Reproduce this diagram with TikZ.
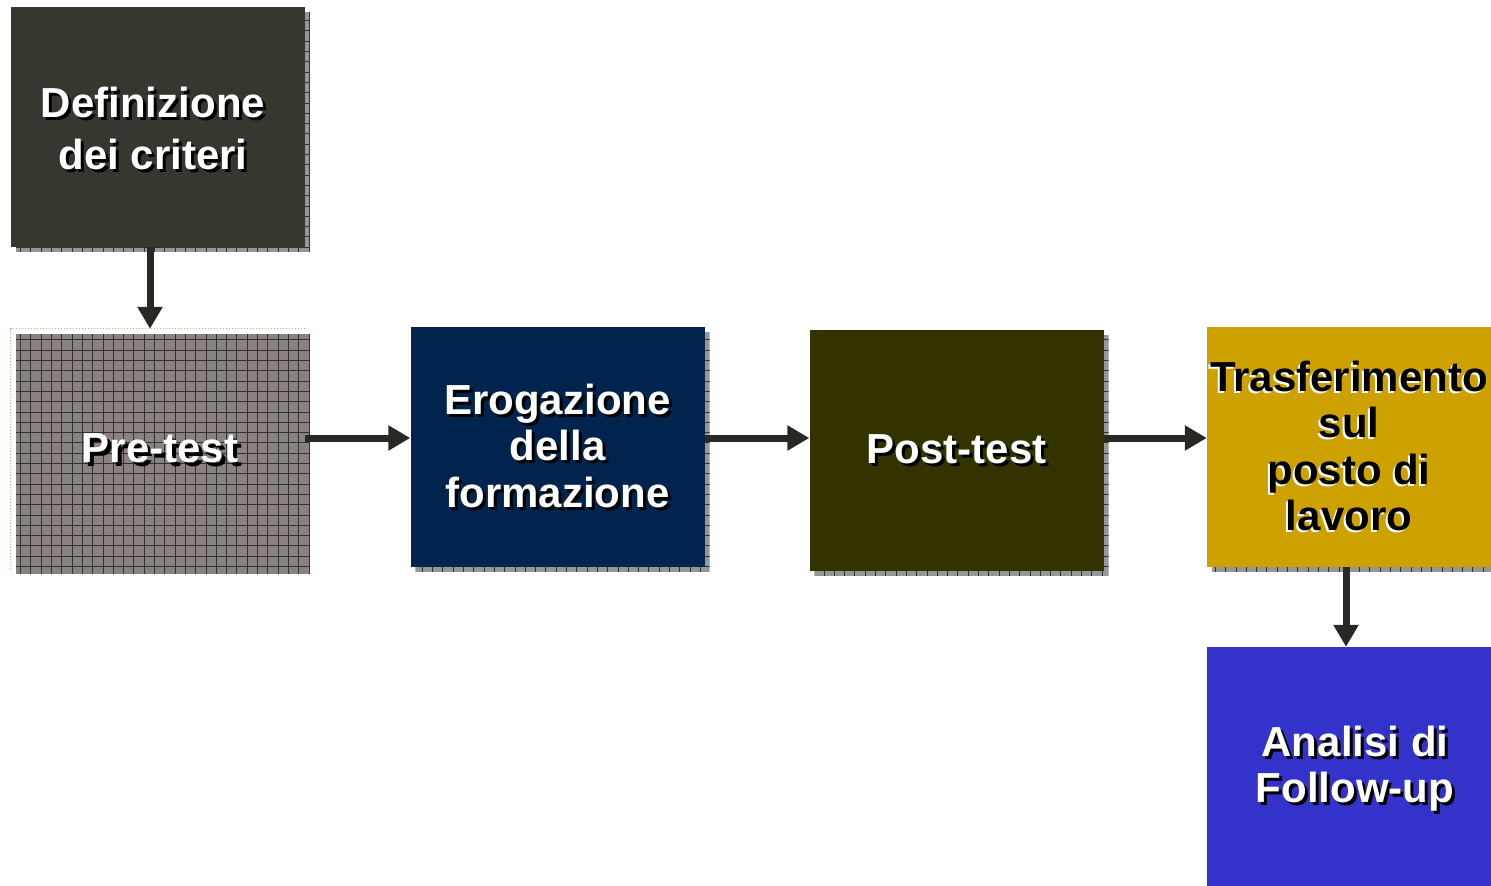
\documentclass[tikz,border=0pt]{standalone}
\usepackage{fontspec}
\setmainfont{Liberation Sans}
\usetikzlibrary{arrows.meta,backgrounds}
\definecolor{cdef}{RGB}{56,55,47}
\definecolor{cero}{RGB}{0,36,77}
\definecolor{cpost}{RGB}{51,51,0}
\definecolor{ctra}{RGB}{204,161,0}
\definecolor{cana}{RGB}{51,51,204}
\definecolor{cpre}{RGB}{138,130,127}
\definecolor{cshad}{RGB}{150,150,150}
\definecolor{cgrid}{RGB}{50,50,50}
\definecolor{carr}{RGB}{40,40,36}
\definecolor{cdot}{RGB}{235,160,130}
\newcommand{\shw}[1]{\makebox[0pt][l]{\hspace{3pt}\raisebox{-3pt}{\color{black}#1}}#1}
\newcommand{\shp}[1]{\makebox[0pt][l]{\hspace{4pt}\raisebox{-4pt}{\color{black}#1}}#1}
\newcommand{\shb}[1]{\makebox[0pt][l]{\hspace{-2pt}\raisebox{-2pt}{\color{white}#1}}#1}
\newcommand{\gridshadow}[3]{%
  \begin{scope}
    \clip ([shift={(#3,#3)}]#1.north west) rectangle ([shift={(#3,#3)}]#1.south east);
    \fill[#2] ([shift={(#3,#3)}]#1.north west) rectangle ([shift={(#3,#3)}]#1.south east);
    \draw[gridln] ([shift={(#3,#3)}]#1.north west) grid ([shift={(#3,#3)}]#1.south east);
  \end{scope}}
\begin{document}
\begin{tikzpicture}[x=1pt,y=-1pt,
  gridln/.style={draw=cgrid, line width=0.9pt, xstep=10.3pt, ystep=10.3pt},
  box/.style={rectangle, inner sep=0pt, draw=none, text=white, align=center,
    minimum width=294pt, minimum height=240pt,
    font=\fontsize{42}{46.5}\selectfont\bfseries},
  txt/.style={inner sep=0pt, text=white, align=center,
    font=\fontsize{42}{46.5}\selectfont\bfseries},
  arr/.style={line width=7pt, draw=carr, -{Triangle[length=22pt,width=24pt]}}]
\useasboundingbox (0,0) rectangle (1491,886);
\node[box, fill=cdef] (def) at (158,127) {};
\node[txt, font=\fontsize{42}{52}\selectfont\bfseries] (defT) at (153,130) {\shw{Definizione}\\\shw{dei criteri}};
\node[box] (pre) at (158,449) {};
\node[txt] (preT) at (160,450) {\shp{Pre-test}};
\node[box, fill=cero] (ero) at (557.5,447) {\shw{Erogazione}\\\shw{della}\\\shw{formazione}};
\node[box, fill=cpost, minimum height=241pt] (post) at (956.5,450.5) {\shw{Post-test}};
\node[box, fill=ctra, text=black, minimum width=284pt] (tra) at (1349,447) {\shb{Trasferimento}\\\shb{sul}\\\shb{posto di}\\\shb{lavoro}};
\node[box, fill=cana, minimum width=284pt, minimum height=239pt] (ana) at (1349,766.5) {};
\node[txt] (anaT) at (1355,770) {\shw{Analisi di}\\\shw{Follow-up}};
\begin{scope}[on background layer]
  \gridshadow{def}{cshad}{5}
  \gridshadow{pre}{cpre}{5}
  \gridshadow{ero}{cshad}{5}
  \gridshadow{post}{cshad}{5}
  \gridshadow{tra}{cshad}{5}
\end{scope}
\draw[cdot, line width=1pt, dotted] (pre.south west) -- (pre.north west) -- (pre.north east);
\coordinate (row) at (0,438);
\coordinate (colA) at (150,0);
\coordinate (colB) at (1346,0);
\draw[arr] (def.south -| colA) -- (pre.north -| colA);
\draw[arr] (pre.east |- row) -- (ero.west |- row);
\draw[arr] (ero.east |- row) -- (post.west |- row);
\draw[arr] (post.east |- row) -- (tra.west |- row);
\draw[arr] (tra.south -| colB) -- (ana.north -| colB);
\end{tikzpicture}
\end{document}
